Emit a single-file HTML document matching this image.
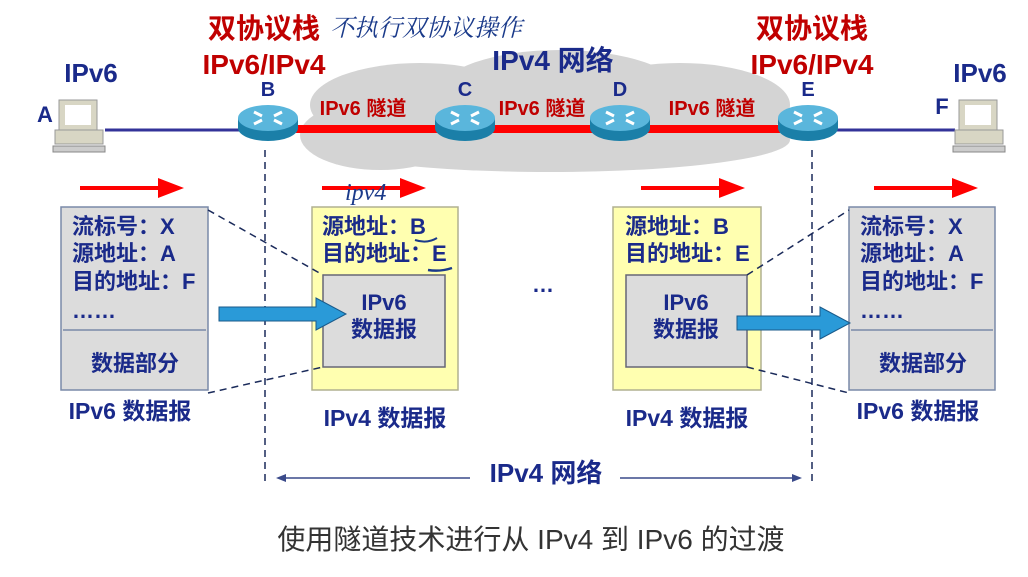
<!DOCTYPE html>
<html><head><meta charset="utf-8"><style>
body{margin:0;background:#fff;}
svg{display:block;font-family:"Liberation Sans","Noto Sans CJK SC",sans-serif;font-weight:bold;}
</style></head><body>
<svg width="1028" height="577" viewBox="0 0 1028 577" xmlns="http://www.w3.org/2000/svg">
<defs>
<g id="router">
<ellipse cx="0" cy="8" rx="30" ry="13" fill="#1b7fa8"/>
<rect x="-30" y="-2" width="60" height="10" fill="#1b7fa8"/>
<ellipse cx="0" cy="-2" rx="30" ry="13" fill="#5ab6dc"/>
<path d="M-14,-8 l8,4 M14,-8 l-8,4 M-14,4 l8,-4 M14,4 l-8,-4" stroke="#fff" stroke-width="3"/>
</g>
<g id="pc">
<rect x="4" y="0" width="38" height="30" fill="#d8d6c4" stroke="#999"/>
<rect x="10" y="5" width="26" height="20" fill="#fff"/>
<rect x="0" y="30" width="48" height="14" fill="#d8d6c4" stroke="#999"/>
<rect x="-2" y="46" width="52" height="6" fill="#ccc" stroke="#888"/>
</g>
</defs>
<g fill="#d4d4d4">
<ellipse cx="420" cy="105" rx="110" ry="42"/>
<ellipse cx="560" cy="92" rx="120" ry="42"/>
<ellipse cx="680" cy="105" rx="110" ry="42"/>
<ellipse cx="550" cy="140" rx="240" ry="32"/>
<ellipse cx="380" cy="135" rx="80" ry="35"/>
</g>
<line x1="105" y1="130" x2="240" y2="130" stroke="#333399" stroke-width="3"/>
<line x1="835" y1="130" x2="955" y2="130" stroke="#333399" stroke-width="3"/>
<line x1="296" y1="129" x2="780" y2="129" stroke="#ff0000" stroke-width="8"/>
<use href="#pc" x="55" y="100"/>
<use href="#pc" x="955" y="100"/>
<use href="#router" x="268" y="120"/>
<use href="#router" x="465" y="120"/>
<use href="#router" x="620" y="120"/>
<use href="#router" x="808" y="120"/>
<g fill="#c00000" font-size="28" text-anchor="middle">
<text x="264" y="38">双协议栈</text>
<text x="264" y="74">IPv6/IPv4</text>
<text x="812" y="38">双协议栈</text>
<text x="812" y="74">IPv6/IPv4</text>
</g>
<text x="330" y="36" font-size="24" font-weight="normal" font-style="italic" fill="#1a3a8a" font-family="'Liberation Serif','Noto Serif CJK SC',serif">不执行双协议操作</text>
<g fill="#1a2a8a" font-size="20" text-anchor="middle">
<text x="91" y="82" font-size="26">IPv6</text>
<text x="980" y="82" font-size="26">IPv6</text>
<text x="45" y="122" font-size="22">A</text>
<text x="942" y="114" font-size="22">F</text>
<text x="268" y="96">B</text>
<text x="465" y="96">C</text>
<text x="620" y="96">D</text>
<text x="808" y="96">E</text>
<text x="553" y="70" font-size="28">IPv4 网络</text>
</g>
<g fill="#c00000" font-size="20" text-anchor="middle">
<text x="363" y="115">IPv6 隧道</text>
<text x="542" y="115">IPv6 隧道</text>
<text x="712" y="115">IPv6 隧道</text>
</g>
<g fill="#ff0000">
<path d="M80,186 h78 v-8 l26,10 l-26,10 v-8 h-78z"/>
<path d="M322,186 h78 v-8 l26,10 l-26,10 v-8 h-78z"/>
<path d="M641,186 h78 v-8 l26,10 l-26,10 v-8 h-78z"/>
<path d="M874,186 h78 v-8 l26,10 l-26,10 v-8 h-78z"/>
</g>
<text x="345" y="200" font-size="24" font-weight="normal" font-style="italic" fill="#1a3a8a" font-family="'Liberation Serif',serif">ipv4</text>
<g stroke="#1a2a5a" stroke-width="1.5" stroke-dasharray="7,5">
<line x1="265" y1="150" x2="265" y2="485"/>
<line x1="812" y1="150" x2="812" y2="485"/>
</g>
<rect x="61" y="207" width="147" height="183" fill="#dcdcdc" stroke="#7a8aa8" stroke-width="1.5"/>
<line x1="63" y1="330" x2="206" y2="330" stroke="#7a8aa8" stroke-width="1.5"/>
<rect x="312" y="207" width="146" height="183" fill="#ffffb0" stroke="#b0b090" stroke-width="1.5"/>
<rect x="323" y="275" width="122" height="92" fill="#dcdcdc" stroke="#667" stroke-width="1.5"/>
<rect x="613" y="207" width="148" height="183" fill="#ffffb0" stroke="#b0b090" stroke-width="1.5"/>
<rect x="626" y="275" width="121" height="92" fill="#dcdcdc" stroke="#667" stroke-width="1.5"/>
<rect x="849" y="207" width="146" height="183" fill="#dcdcdc" stroke="#7a8aa8" stroke-width="1.5"/>
<line x1="851" y1="330" x2="993" y2="330" stroke="#7a8aa8" stroke-width="1.5"/>
<g stroke="#1a2a5a" stroke-width="1.5" stroke-dasharray="7,5" fill="none">
<line x1="208" y1="210" x2="323" y2="275"/>
<line x1="208" y1="393" x2="323" y2="367"/>
<line x1="747" y1="275" x2="849" y2="210"/>
<line x1="747" y1="367" x2="849" y2="393"/>
</g>
<g fill="#2a9ad8" stroke="#1a5a8a" stroke-width="1">
<path d="M219,307 h97 v-9 l30,16 l-30,16 v-9 h-97z"/>
<path d="M737,316 h83 v-9 l30,16 l-30,16 v-9 h-83z"/>
</g>
<g fill="#1a2a8a" font-size="22">
<text x="72" y="234">流标号：X</text>
<text x="72" y="261">源地址：A</text>
<text x="72" y="289">目的地址：F</text>
<text x="72" y="318">……</text>
<text x="91" y="371">数据部分</text>
<text x="322" y="234">源地址：B</text>
<text x="322" y="261">目的地址：E</text>
<text x="625" y="234">源地址：B</text>
<text x="625" y="261">目的地址：E</text>
<text x="860" y="234">流标号：X</text>
<text x="860" y="261">源地址：A</text>
<text x="860" y="289">目的地址：F</text>
<text x="860" y="318">……</text>
<text x="879" y="371">数据部分</text>
</g>
<g fill="#1a2a8a" font-size="22" text-anchor="middle">
<text x="384" y="310">IPv6</text>
<text x="384" y="337">数据报</text>
<text x="686" y="310">IPv6</text>
<text x="686" y="337">数据报</text>
<text x="130" y="419" font-size="23">IPv6 数据报</text>
<text x="385" y="426" font-size="23">IPv4 数据报</text>
<text x="687" y="426" font-size="23">IPv4 数据报</text>
<text x="918" y="419" font-size="23">IPv6 数据报</text>
<text x="543" y="292">…</text>
<text x="546" y="482" font-size="26">IPv4 网络</text>
</g>
<path d="M415,240 q12,4 22,-2" stroke="#1a3a8a" stroke-width="2" fill="none"/>
<path d="M428,270 q12,2 24,-2" stroke="#1a3a8a" stroke-width="2.5" fill="none"/>
<g stroke="#3a4a8a" stroke-width="1.5">
<line x1="280" y1="478" x2="470" y2="478"/>
<line x1="620" y1="478" x2="798" y2="478"/>
</g>
<path d="M276,478 l10,-4 v8z M802,478 l-10,-4 v8z" fill="#3a4a8a"/>
<text x="531" y="549" font-size="28" font-weight="normal" fill="#333" text-anchor="middle">使用隧道技术进行从 IPv4 到 IPv6 的过渡</text>
</svg>
</body></html>
